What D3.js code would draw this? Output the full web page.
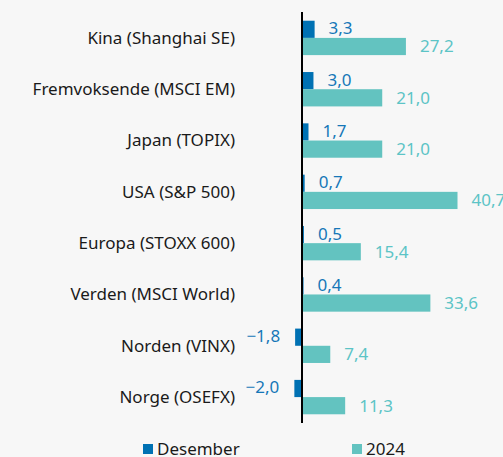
<!DOCTYPE html>
<html>
<head>
<meta charset="utf-8">
<script src="https://cdn.jsdelivr.net/npm/d3@7"></script>
<style>
  body { margin: 0; background: #f7f7f7; }
  svg { display: block; font-family: "Noto Sans", sans-serif; }
</style>
</head>
<body>
<div id="chart"></div>
<script>
// categories top to bottom
var categories = ["Kina (Shanghai SE)", "Fremvoksende (MSCI EM)", "Japan (TOPIX)", "USA (S&P 500)",
  "Europa (STOXX 600)", "Verden (MSCI World)", "Norden (VINX)", "Norge (OSEFX)"];
var desember = [3.3, 3.0, 1.7, 0.7, 0.5, 0.4, -1.8, -2.0];
var aar2024 = [27.2, 21.0, 21.0, 40.7, 15.4, 33.6, 7.4, 11.3];
var seriesNames = ["Desember", "2024"];
var colors = ["#0071b3", "#63c3c0"];
var labelColors = ["#1677b8", "#5cc4c6"];

var width = 503, height = 457;
var fontSize = 17;

var svg = d3.select("#chart").append("svg")
  .attr("width", width)
  .attr("height", height);

svg.append("rect").attr("width", width).attr("height", height).attr("fill", "#f7f7f7");

var x = d3.scaleLinear().domain([0, 40.7]).range([302, 457.5]);

var y = d3.scaleBand().domain(categories).range([12, 423]).paddingInner(0.33).paddingOuter(0.17);
var ySub = d3.scaleBand().domain(seriesNames).range([0, y.bandwidth()]);

var data = categories.map(function(c, i) {
  return { cat: c, vals: [desember[i], aar2024[i]] };
});

var fmt = function(v) { return d3.format(".1f")(v).replace(".", ",").replace("-", "\u2212"); };

var groups = svg.selectAll(".grp")
  .data(data)
  .enter().append("g")
  .attr("class", "grp")
  .attr("transform", function(d) { return "translate(0," + y(d.cat) + ")"; });

groups.selectAll("rect")
  .data(function(d) { return d.vals.map(function(v, j) { return { v: v, s: seriesNames[j], j: j }; }); })
  .enter().append("rect")
  .attr("x", function(d) { return x(Math.min(0, d.v)); })
  .attr("y", function(d) { return ySub(d.s); })
  .attr("width", function(d) { return Math.abs(x(d.v) - x(0)); })
  .attr("height", ySub.bandwidth())
  .attr("fill", function(d) { return colors[d.j]; });

groups.selectAll("text.val")
  .data(function(d) { return d.vals.map(function(v, j) { return { v: v, s: seriesNames[j], j: j }; }); })
  .enter().append("text")
  .attr("class", "val")
  .attr("x", function(d) { return d.v < 0 ? x(d.v) - 15 : x(d.v) + 14; })
  .attr("y", function(d) { return ySub(d.s) + ySub.bandwidth() / 2 + (d.j == 0 ? -1 : 0); })
  .attr("dy", "0.35em")
  .attr("text-anchor", function(d) { return d.v < 0 ? "end" : "start"; })
  .attr("font-size", fontSize)
  .attr("fill", function(d) { return labelColors[d.j]; })
  .text(function(d) { return fmt(d.v); });

// category labels
svg.selectAll(".cat")
  .data(categories)
  .enter().append("text")
  .attr("class", "cat")
  .attr("x", 235)
  .attr("y", function(d) { return y(d) + y.bandwidth() / 2; })
  .attr("dy", "0.35em")
  .attr("text-anchor", "end")
  .attr("font-size", fontSize)
  .attr("fill", "#1a1a1a")
  .text(function(d) { return d; });

// zero axis
svg.append("line")
  .attr("x1", x(0)).attr("x2", x(0))
  .attr("y1", 12).attr("y2", 423)
  .attr("stroke", "#000").attr("stroke-width", 2);

// legend
var legendX = [143, 352];
var legend = svg.selectAll(".leg")
  .data(seriesNames)
  .enter().append("g")
  .attr("class", "leg")
  .attr("transform", function(d, i) { return "translate(" + legendX[i] + ",444)"; });

legend.append("rect")
  .attr("width", 10).attr("height", 10)
  .attr("fill", function(d, i) { return colors[i]; });

legend.append("text")
  .attr("x", 14).attr("y", 5)
  .attr("dy", "0.35em")
  .attr("font-size", fontSize)
  .attr("fill", "#1a1a1a")
  .text(function(d) { return d; });
</script>
</body>
</html>
